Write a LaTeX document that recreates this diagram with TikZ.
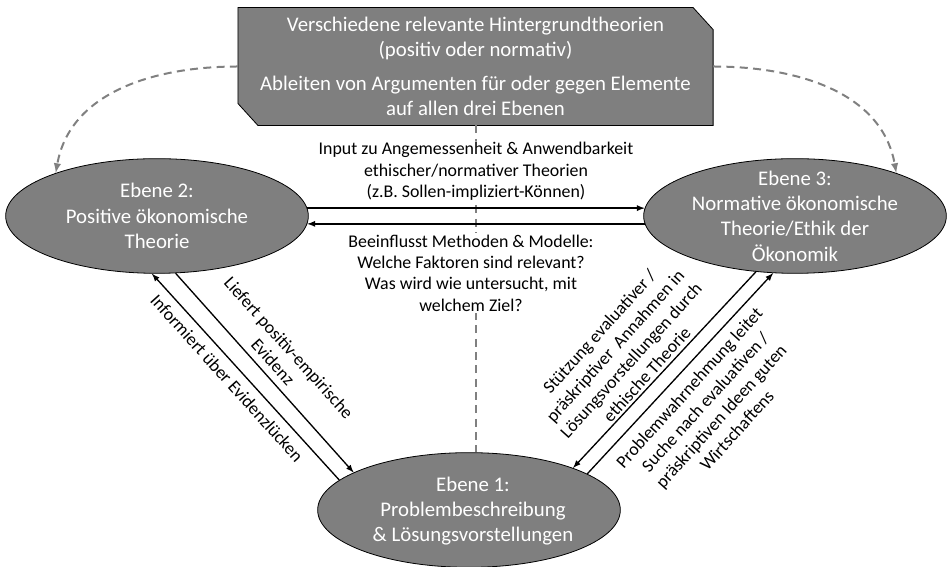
\documentclass[tikz,border=0pt]{standalone}
\usepackage{fontspec}
\setmainfont{Carlito}
\usetikzlibrary{shapes}
\usetikzlibrary{backgrounds}
\usetikzlibrary{positioning}
\definecolor{ebenegrau}{HTML}{7F7F7F}
\definecolor{strichgrau}{HTML}{808080}

\tikzset{
  ebene/.style={ellipse, draw=black, line width=0.6pt, fill=ebenegrau,
    minimum width=227pt, minimum height=86pt, inner sep=0pt},
  ebenetext/.style={text=white, align=center, font=\fontsize{15.6}{19}\selectfont},
  hinweis/.style={align=center, inner sep=1pt, font=\fontsize{13.4}{16}\selectfont},
  pfeil/.style={->, line width=1pt},
  bezug/.style={draw=strichgrau, line width=1.5pt, dash pattern=on 6pt off 4pt},
}

\begin{document}
\begin{tikzpicture}[x=0.75pt, y=0.75pt, >=latex]
  \useasboundingbox (0,0) rectangle (949,567);

  \node[ebene] (e2) at (157,351) {};
  \node[ebene] (e3) at (795,351) {};
  \node[ebene] (e1) at (469,57)  {};
  \node[ebenetext] (t2) at (e2) {Ebene 2:\\Positive ökonomische\\Theorie};
  \node[ebenetext] (t3) at (e3) {Ebene 3:\\Normative ökonomische\\Theorie/Ethik der\\Ökonomik};
  \node[ebenetext] (t1) at (473,56) {Ebene 1:\\Problembeschreibung\\\& Lösungsvorstellungen};

  \node[ebenetext, minimum width=356pt, minimum height=88pt, inner sep=0pt] (hg) at (475.5,500.5)
    {Verschiedene relevante Hintergrundtheorien\\(positiv oder normativ)\\[6pt]
     Ableiten von Argumenten für oder gegen Elemente\\auf allen drei Ebenen};
  \begin{scope}[on background layer]
    \draw[fill=ebenegrau, line width=0.6pt]
      (hg.north west) -- ([xshift=-15pt]hg.north east) -- ([yshift=-16.5pt]hg.north east)
      -- (hg.south east) -- ([xshift=15pt]hg.south west) -- ([yshift=16.5pt]hg.south west) -- cycle;
  \end{scope}

  \draw[bezug, ->] (hg.west) to[out=180, in=80] (e2.157);
  \draw[bezug, ->] (hg.east) to[out=0, in=100] (e3.23);
  \draw[bezug] (hg.south) -- (hg.south |- e1.north);

  \node[hinweis, fill=white] (input) at (476,395.5)
    {Input zu Angemessenheit \& Anwendbarkeit\\ethischer/normativer Theorien\\(z.B. Sollen-impliziert-Können)};
  \node[hinweis, fill=white] (methoden) at (471,294)
    {Beeinflusst Methoden \& Modelle:\\Welche Faktoren sind relevant?\\Was wird wie untersucht, mit\\welchem Ziel?};

  \node[hinweis, rotate=-48] (liefert) at (281,212) {Liefert positiv-empirische\\Evidenz};
  \node[hinweis, rotate=-48] (informiert) at (227,189) {Informiert über Evidenzlücken};
  \node[hinweis, rotate=48] (stuetzung) at (623,214)
    {Stützung evaluativer /\\präskriptiver\ \ Annahmen in\\Lösungsvorstellungen durch\\ethische Theorie};
  \node[hinweis, rotate=48] (problem) at (713,158)
    {Problemwahrnehmung leitet\\Suche nach evaluativen /\\präskriptiven Ideen guten\\Wirtschaftens};

  \draw[pfeil] (e2.3) -- (e3.177);
  \draw[pfeil] (e3.183) -- (e2.-3);
  \draw[pfeil] (e2.-72) -- (e1.162);
  \draw[pfeil] (e1.167) -- (e2.-95);
  \draw[pfeil] (e3.-125) -- (e1.22);
  \draw[pfeil] (e1.17) -- (e3.-111);
\end{tikzpicture}
\end{document}
